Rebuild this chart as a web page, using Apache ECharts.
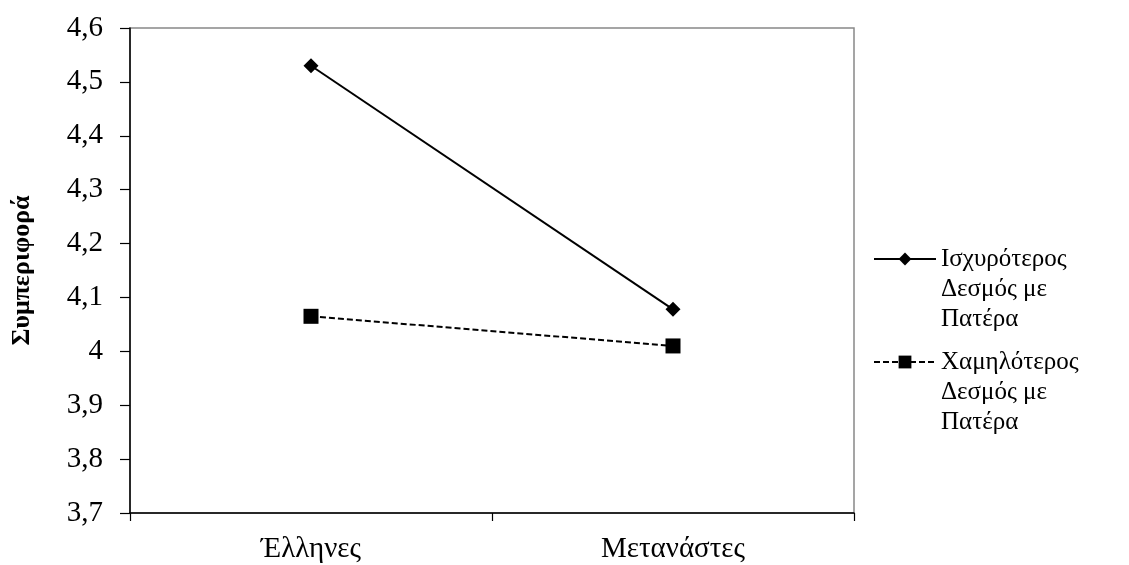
<!DOCTYPE html>
<html>
<head>
<meta charset="utf-8">
<script src="https://cdn.jsdelivr.net/npm/echarts@6/dist/echarts.min.js"></script>
<style>
html,body{margin:0;padding:0;background:#fff;}
#chart{width:1129px;height:565px;}
</style>
</head>
<body>
<div id="chart"></div>
<script>
const categories = ['Έλληνες', 'Μετανάστες'];
const seriesNames = ['Ισχυρότερος\nΔεσμός με\nΠατέρα', 'Χαμηλότερος\nΔεσμός με\nΠατέρα'];
const strongBond = [4.53, 4.078];
const weakBond = [4.065, 4.01];
const yAxisTitle = 'Συμπεριφορά';

const font = '"Liberation Serif", "Times New Roman", serif';
const chart = echarts.init(document.getElementById('chart'));
chart.setOption({
  animation: false,
  textStyle: { fontFamily: font },
  grid: {
    left: 130, right: 275, top: 28, bottom: 52,
    show: true, borderColor: '#888', borderWidth: 1.5, backgroundColor: '#fff'
  },
  legend: {
    orient: 'vertical',
    left: 868,
    top: 179,
    itemWidth: 62,
    itemHeight: 16,
    itemGap: -47,
    formatter: name => '\n\n' + name,
    textStyle: {
      fontFamily: font, fontSize: 25, color: '#000', lineHeight: 30
    },
    data: seriesNames
  },
  xAxis: {
    type: 'category',
    data: categories,
    boundaryGap: true,
    axisLine: { lineStyle: { color: '#000', width: 1.5 } },
    axisTick: { show: true, length: 8, lineStyle: { color: '#000', width: 1.2 } },
    axisLabel: { fontFamily: font, fontSize: 29, color: '#000', margin: 22 },
    splitLine: { show: false }
  },
  yAxis: {
    type: 'value',
    min: 3.7, max: 4.6, interval: 0.1,
    name: yAxisTitle,
    nameLocation: 'middle',
    nameGap: 95,
    nameTextStyle: { fontFamily: font, fontSize: 26, fontWeight: 'bold', color: '#000' },
    axisLine: { show: true, lineStyle: { color: '#000', width: 1.5 } },
    axisTick: { show: true, length: 10, lineStyle: { color: '#000', width: 1.2 } },
    axisLabel: {
      fontFamily: font, fontSize: 29, color: '#000', margin: 27,
      formatter: v => String(+v.toFixed(1)).replace('.', ',')
    },
    splitLine: { show: false }
  },
  series: [
    {
      name: seriesNames[0], type: 'line', data: strongBond,
      symbol: 'diamond', symbolSize: 15,
      itemStyle: { color: '#000' },
      lineStyle: { color: '#000', width: 2, type: 'solid' }
    },
    {
      name: seriesNames[1], type: 'line', data: weakBond,
      symbol: 'rect', symbolSize: 15,
      itemStyle: { color: '#000' },
      lineStyle: { color: '#000', width: 2, type: [6, 3] }
    }
  ]
});
</script>
</body>
</html>
